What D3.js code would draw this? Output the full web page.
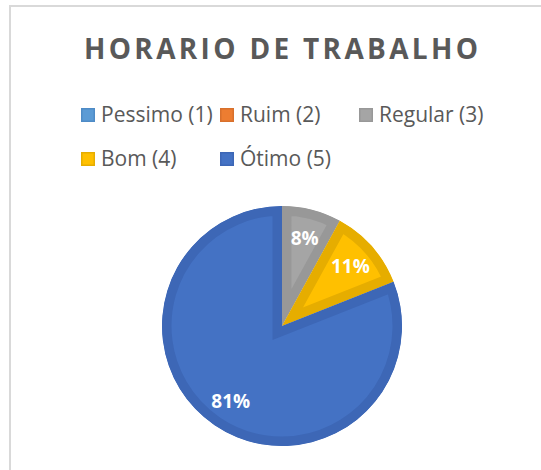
<!DOCTYPE html>
<html>
<head>
<meta charset="utf-8">
<script src="https://cdn.jsdelivr.net/npm/d3@7/dist/d3.min.js"></script>
<style>
  html, body { margin: 0; padding: 0; background: #ffffff; }
  svg { display: block; }
</style>
</head>
<body>
<svg id="chart" width="541" height="470"></svg>
<script>
const title = "HORARIO DE TRABALHO";
const categories = ["Pessimo (1)", "Ruim (2)", "Regular (3)", "Bom (4)", "Ótimo (5)"];
const values = [0, 0, 8, 11, 81];
const fillColors = ["#5B9BD5", "#ED7D31", "#A5A5A5", "#FFC000", "#4472C4"];
const edgeColors = ["#4E8BC6", "#D8702C", "#989898", "#E6AD00", "#3D67B6"];

const W = 541, H = 470;
const svg = d3.select("#chart");
svg.append("rect").attr("width", W).attr("height", H).attr("fill", "#ffffff");

// frame
svg.append("rect")
  .attr("x", 10).attr("y", 6)
  .attr("width", 700).attr("height", 700)
  .attr("fill", "none").attr("stroke", "#d9d9d9").attr("stroke-width", 2);

// title
svg.append("text")
  .attr("x", 84).attr("y", 59)
  .attr("textLength", 394).attr("lengthAdjust", "spacing")
  .attr("font-family", "'Open Sans', sans-serif")
  .attr("font-weight", "bold")
  .attr("font-size", 28)
  .attr("fill", "#595959")
  .text(title);

// legend
const colX = d3.scaleLinear().domain([0, 1]).range([81, 220]);
const rowY = d3.scaleLinear().domain([0, 1]).range([122, 166]);
const legend = svg.append("g");
categories.forEach((c, i) => {
  const col = i < 3 ? i : i - 3;
  const row = i < 3 ? 0 : 1;
  const x = colX(col), y = rowY(row);
  const g = legend.append("g");
  g.append("rect")
    .attr("x", x + 0.75).attr("y", y - 13.25)
    .attr("width", 12.5).attr("height", 12.5)
    .attr("fill", fillColors[i]).attr("stroke", edgeColors[i]).attr("stroke-width", 1.5);
  g.append("text")
    .attr("x", x + 20).attr("y", y)
    .attr("font-family", "'Open Sans', sans-serif")
    .attr("font-size", 21)
    .attr("fill", "#595959")
    .text(c);
});

// pie
const cx = 282, cy = 326, R = 120;
const pie = d3.pie().sort(null).value(d => d.v);
const data = pie(categories.map((c, i) => ({ c, v: values[i], i })));
const arc = d3.arc().innerRadius(0).outerRadius(R);
const labelArc = d3.arc().innerRadius(R * 0.76).outerRadius(R * 0.76);

const pg = svg.append("g").attr("transform", `translate(${cx},${cy})`);
const defs = svg.append("defs");
data.forEach((d, k) => {
  if (d.data.v <= 0) return;
  defs.append("clipPath").attr("id", "clip" + k)
    .append("path").attr("d", arc(d));
  pg.append("path")
    .attr("d", arc(d))
    .attr("fill", fillColors[d.data.i])
    .attr("stroke", edgeColors[d.data.i])
    .attr("stroke-width", 19)
    .attr("stroke-linejoin", "miter")
    .attr("clip-path", `url(#clip${k})`);
});
data.forEach(d => {
  if (d.data.v <= 0) return;
  const [lx, ly] = labelArc.centroid(d);
  pg.append("text")
    .attr("x", lx).attr("y", ly)
    .attr("dy", "0.36em")
    .attr("text-anchor", "middle")
    .attr("font-family", "'Open Sans', sans-serif")
    .attr("font-weight", "bold")
    .attr("font-size", 19)
    .attr("fill", "#ffffff")
    .text(d.data.v + "%");
});
</script>
</body>
</html>
